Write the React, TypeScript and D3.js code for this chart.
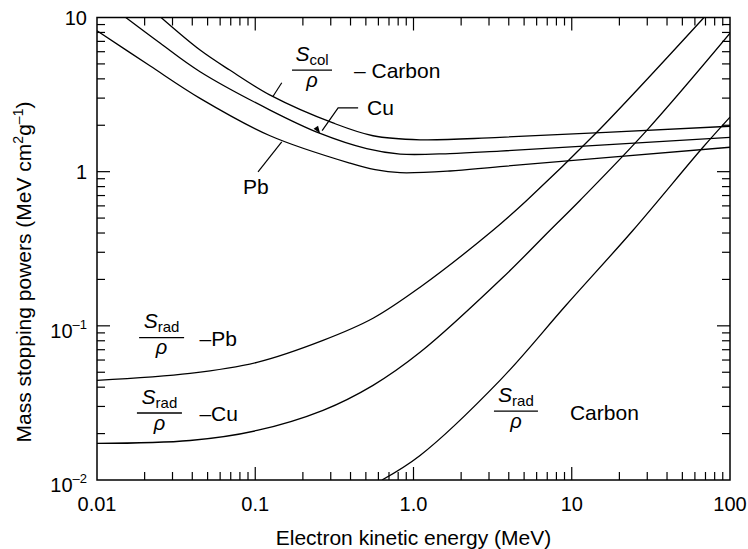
import * as d3 from "d3";

type Pt = [number, number]; // [energy MeV, stopping power MeV cm2/g]

// collision stopping powers
const carbonCol: Pt[] = [
  [0.0254, 10], [0.0448, 6.15], [0.069, 4.56], [0.127, 3.1], [0.31, 2.07],
  [0.555, 1.71], [1.1, 1.61], [3.52, 1.67], [100, 1.97],
];
const cuCol: Pt[] = [
  [0.0152, 10], [0.025, 6.83], [0.0448, 4.45], [0.124, 2.51], [0.257, 1.77],
  [0.506, 1.41], [0.823, 1.3], [1.7, 1.31], [3.52, 1.36], [100, 1.67],
];
const pbCol: Pt[] = [
  [0.01, 8.21], [0.0216, 4.86], [0.0448, 2.99], [0.124, 1.71], [0.397, 1.135],
  [0.572, 1.03], [0.823, 0.985], [1.7, 1.01], [3.52, 1.078], [100, 1.44],
];

// radiative stopping powers
const pbRad: Pt[] = [
  [0.01, 0.0443], [0.0387, 0.0492], [0.1026, 0.058], [0.268, 0.0805], [0.555, 0.112],
  [1.1, 0.178], [3.18, 0.417], [5.21, 0.653], [14.4, 1.8], [68.5, 10],
];
const cuRad: Pt[] = [
  [0.01, 0.01726], [0.0387, 0.01804], [0.1026, 0.02095], [0.268, 0.0283], [0.555, 0.0411],
  [1.1, 0.0673], [3.68, 0.2065], [7.29, 0.417], [11.3, 0.653], [29.9, 1.86], [100, 7.9],
];
const carbonRad: Pt[] = [
  [0.632, 0.01], [1.1, 0.01443], [3.52, 0.0443], [9.2, 0.136], [24.4, 0.417],
  [67.5, 1.44], [100, 2.26],
];

const xLabelValues = [0.01, 0.1, 1, 10, 100];
const xLabelText = ["0.01", "0.1", "1.0", "10", "100"];
const yLabelValues = [10, 1, 0.1, 0.01];
const yLabelBase = ["10", "1", "10", "10"];
const yLabelExp = ["", "", "\u20131", "\u20132"];

const FONT = "'Liberation Sans', Arial, Helvetica, sans-serif";

function Frac({ cx, cy, sub, w }: { cx: number; cy: number; sub: string; w: number }) {
  return (
    <g>
      <text x={cx} y={cy - 9.5} textAnchor="middle" fontSize={21}>
        <tspan fontStyle="italic">S</tspan>
        <tspan fontSize={15} dy={4}>{sub}</tspan>
      </text>
      <line x1={cx - w / 2} x2={cx + w / 2} y1={cy} y2={cy} stroke="#000" strokeWidth={1.3} />
      <text x={cx} y={cy + 16.5} textAnchor="middle" fontStyle="italic" fontSize={20}>
        ρ
      </text>
    </g>
  );
}

export default function App() {
  const W = 748;
  const H = 549;
  const left = 97, right = 730, top = 17.5, bottom = 480;

  const x = d3.scaleLog().domain([0.01, 100]).range([left, right]);
  const y = d3.scaleLog().domain([0.01, 10]).range([bottom, top]);
  const line = d3
    .line<Pt>()
    .x((d) => x(d[0]))
    .y((d) => y(d[1]))
    .curve(d3.curveCatmullRom.alpha(0.5));

  const isMajor = (v: number) => Math.abs(Math.log10(v) - Math.round(Math.log10(v))) < 1e-6;
  const xTicks = x.ticks().filter((v) => v > 0.0100001 && v < 99.999);
  const yTicks = y.ticks().filter((v) => v > 0.0100001 && v < 9.999);

  const curves = [carbonCol, cuCol, pbCol, pbRad, cuRad, carbonRad];

  // annotation anchors (data space)
  const colFrac = [x(0.2284), y(4.56)];
  const pbFrac = [x(0.0256), y(0.0838)];
  const cuFrac = [x(0.0248), y(0.0272)];
  const cFrac = [x(4.44), y(0.028)];
  const cPtr = [x(0.129), y(3.06)];
  const cuPtr = [x(0.257), y(1.77)];
  const pbPtr = [x(0.147), y(1.56)];

  return (
    <>
      <style>{`body{margin:0}`}</style>
      <svg width={W} height={H} style={{ display: "block", background: "#fff" }} fontFamily={FONT}>
        <defs>
          <clipPath id="plot">
            <rect x={left} y={top} width={right - left} height={bottom - top} />
          </clipPath>
        </defs>

        {/* curves */}
        <g clipPath="url(#plot)" fill="none" stroke="#000" strokeWidth={1.3}>
          {curves.map((c, i) => (
            <path key={i} d={line(c) ?? ""} />
          ))}
        </g>

        {/* ticks, inward on all four sides */}
        <g stroke="#000" strokeWidth={1.2}>
          {xTicks.map((v) => {
            const len = isMajor(v) ? 13 : 8;
            return (
              <g key={"x" + v}>
                <line x1={x(v)} x2={x(v)} y1={bottom} y2={bottom - len} />
                <line x1={x(v)} x2={x(v)} y1={top} y2={top + len} />
              </g>
            );
          })}
          {yTicks.map((v) => {
            const len = isMajor(v) ? 13 : 8;
            return (
              <g key={"y" + v}>
                <line x1={left} x2={left + len} y1={y(v)} y2={y(v)} />
                <line x1={right} x2={right - len} y1={y(v)} y2={y(v)} />
              </g>
            );
          })}
        </g>
        <rect x={left} y={top} width={right - left} height={bottom - top} fill="none" stroke="#000" strokeWidth={1.5} />

        {/* tick labels */}
        {xLabelValues.map((v, i) => (
          <text key={v} x={x(v)} y={bottom + 31} textAnchor="middle" fontSize={20}>
            {xLabelText[i]}
          </text>
        ))}
        {yLabelValues.map((v, i) => (
          <text key={v} x={87} y={y(v) + (yLabelExp[i] ? 12 : 7)} textAnchor="end" fontSize={20}>
            {yLabelBase[i]}
            {yLabelExp[i] && (
              <tspan fontSize={13} dy={-9}>
                {yLabelExp[i]}
              </tspan>
            )}
          </text>
        ))}

        {/* axis titles */}
        <text x={(left + right) / 2} y={545} textAnchor="middle" fontSize={21}>
          Electron kinetic energy (MeV)
        </text>
        <text transform={`translate(31, 272) rotate(-90)`} textAnchor="middle" fontSize={21}>
          Mass stopping powers (MeV cm
          <tspan fontSize={14} dy={-8}>2</tspan>
          <tspan dy={8}>g</tspan>
          <tspan fontSize={14} dy={-8}>{"\u20131"}</tspan>
          <tspan dy={8}>)</tspan>
        </text>

        {/* annotations */}
        <Frac cx={colFrac[0]} cy={colFrac[1]} sub="col" w={40} />
        <text x={colFrac[0] + 42} y={colFrac[1] + 8} fontSize={21}>
          {"\u2013 Carbon"}
        </text>
        <Frac cx={pbFrac[0]} cy={pbFrac[1]} sub="rad" w={45} />
        <text x={pbFrac[0] + 38} y={pbFrac[1] + 8} fontSize={21}>
          {"\u2013Pb"}
        </text>
        <Frac cx={cuFrac[0]} cy={cuFrac[1]} sub="rad" w={45} />
        <text x={cuFrac[0] + 40} y={cuFrac[1] + 8} fontSize={21}>
          {"\u2013Cu"}
        </text>
        <Frac cx={cFrac[0]} cy={cFrac[1]} sub="rad" w={44} />
        <text x={cFrac[0] + 54} y={cFrac[1] + 9} fontSize={21}>
          Carbon
        </text>

        <g stroke="#000" strokeWidth={1.2} fill="none">
          <line x1={cPtr[0]} y1={cPtr[1]} x2={cPtr[0] + 9} y2={cPtr[1] - 14} />
          <polyline
            points={`${cuPtr[0] + 38},${cuPtr[1] - 25.6} ${cuPtr[0] + 18},${cuPtr[1] - 25.6} ${cuPtr[0] + 2},${cuPtr[1] - 2.8}`}
          />
          <line x1={pbPtr[0]} y1={pbPtr[1]} x2={pbPtr[0] - 23.7} y2={pbPtr[1] + 30} />
        </g>
        {/* arrow head on the Cu pointer */}
        <path
          d={(() => {
            const tx = cuPtr[0], ty = cuPtr[1];
            const a = Math.atan2(25.6, -18);
            const L = 8, s = 0.35;
            const p1 = [tx + L * Math.cos(a - s), ty - L * Math.sin(a - s)];
            const p2 = [tx + L * Math.cos(a + s), ty - L * Math.sin(a + s)];
            return `M${tx},${ty}L${p1[0]},${p1[1]}L${p2[0]},${p2[1]}Z`;
          })()}
          fill="#000"
        />
        <text x={cuPtr[0] + 47} y={cuPtr[1] - 18} fontSize={21}>
          Cu
        </text>
        <text x={pbPtr[0] - 38.7} y={pbPtr[1] + 52} fontSize={21}>
          Pb
        </text>
      </svg>
    </>
  );
}
